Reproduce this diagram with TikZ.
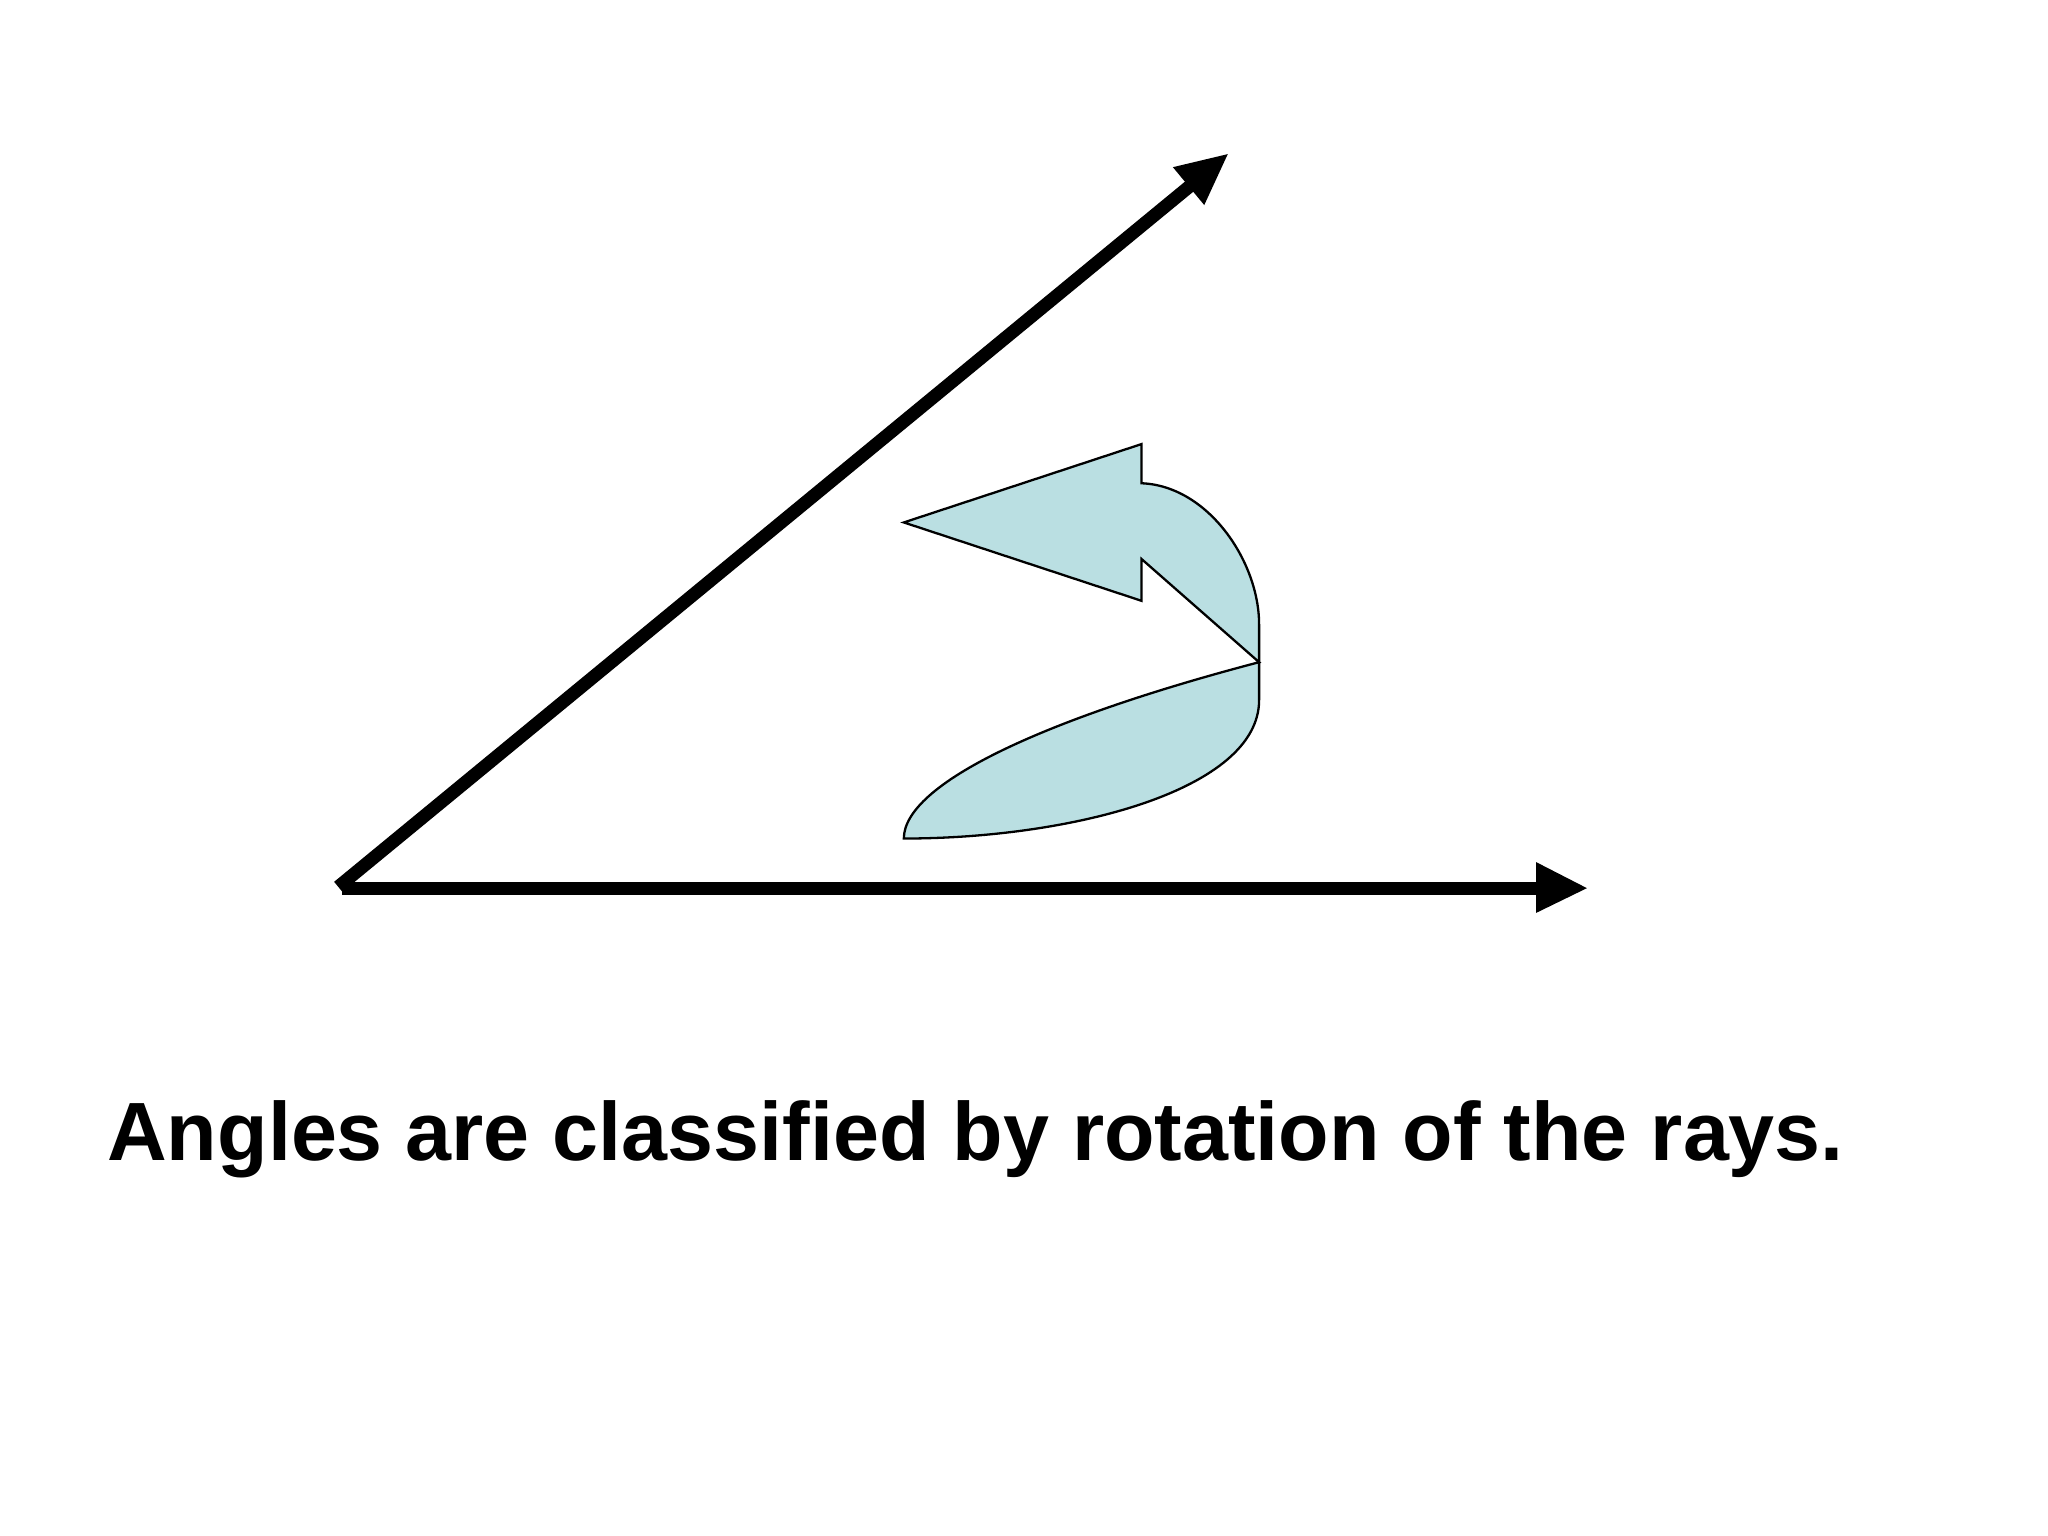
\documentclass[tikz,border=0pt]{standalone}
\usepackage{fontspec}
\setmainfont{Liberation Sans}
\begin{document}
\begin{tikzpicture}[x=0.01cm,y=-0.01cm,
  ray/.style={line width=0.1cm},
  head/.style={fill=black},
  turn/.style={fill={rgb,255:red,186;green,223;blue,226},draw=black,line width=0.5pt}]
\useasboundingbox (0,0) rectangle (1568,1176);
\coordinate (o) at (262,680);
\coordinate (h) at (1180,680);
\coordinate (d) at (914,140);
\draw[ray] (o) -- (h);
\draw[ray] (259,679) -- (d);
\fill[head] (1176,660) -- (1215,680) -- (1176,699) -- cycle;
\fill[head] (898,128) -- (940,118) -- (922,157) -- cycle;
\draw[turn] (692,400) -- (874,340) -- (874,370)
  .. controls (925,372) and (964,430) .. (964,478) -- (964,536)
  .. controls (964,605) and (820,642) .. (692,642)
  .. controls (692,600) and (800,550) .. (964,507)
  -- (874,428) -- (874,460) -- cycle;
\node[font=\bfseries\fontsize{18}{22}\selectfont,anchor=center] (t) at (747,872) {Angles are classified by rotation of the rays.};
\end{tikzpicture}
\end{document}
